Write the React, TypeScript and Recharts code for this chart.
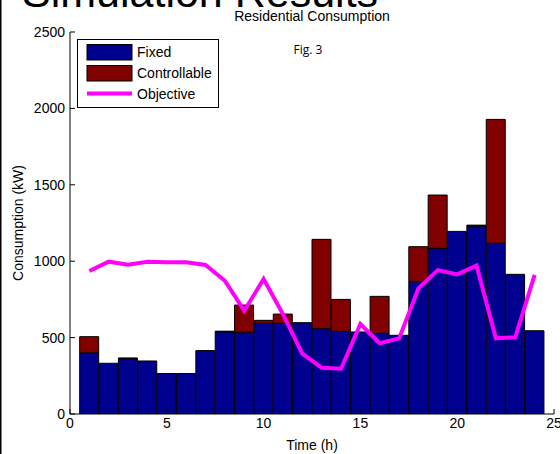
import React from 'react';
import { ComposedChart, Bar, Line, XAxis, YAxis } from 'recharts';

const hours = [1, 2, 3, 4, 5, 6, 7, 8, 9, 10, 11, 12, 13, 14, 15, 16, 17, 18, 19, 20, 21, 22, 23, 24];
const fixed = [400, 332, 362, 347, 265, 265, 415, 538, 535, 593, 593, 598, 558, 541, 537, 528, 515, 866, 1084, 1195, 1230, 1117, 914, 545];
const controllable = [106, 0, 5, 0, 0, 0, 0, 4, 178, 20, 61, 0, 585, 209, 0, 242, 0, 229, 349, 0, 6, 811, 0, 0];
const objective = [936, 997, 977, 997, 993, 993, 975, 872, 676, 883, 654, 395, 303, 296, 589, 463, 495, 822, 942, 914, 971, 495, 502, 910];

const xTicks = [0, 5, 10, 15, 20, 25];
const yTicks = [0, 500, 1000, 1500, 2000, 2500];

const seriesNames = ['Fixed', 'Controllable', 'Objective'];
const FIXED_COLOR = '#00008F';
const CTRL_COLOR = '#800000';
const OBJ_COLOR = '#FF00FF';

const data = hours.map((h, i) => ({
  h,
  fixed: fixed[i],
  controllable: controllable[i],
  objective: objective[i],
}));

const FONT = '"Liberation Sans", Arial, Helvetica, sans-serif';
const tickStyle = { fontSize: 14, fill: '#000', fontFamily: FONT };

export default function App() {
  return (
    <div style={{ position: 'absolute', left: 0, top: 0, width: 560, height: 454, background: '#fff', overflow: 'hidden', fontFamily: FONT }}>
      <div style={{ position: 'absolute', left: 0, top: 0 }}>
        <ComposedChart
          width={560}
          height={454}
          data={data}
          margin={{ top: 32, right: 6, bottom: 0, left: 10 }}
          barCategoryGap={0}
          barGap={0}
        >
          <XAxis
            dataKey="h"
            type="number"
            domain={[0, 25]}
            ticks={xTicks}
            interval={0}
            allowDataOverflow
            height={40}
            tickSize={-5}
            tickMargin={9}
            tick={tickStyle}
            axisLine={{ stroke: '#000' }}
            tickLine={{ stroke: '#000' }}
          />
          <XAxis
            xAxisId="top"
            orientation="top"
            type="number"
            domain={[0, 25]}
            ticks={xTicks}
            interval={0}
            height={0}
            tickSize={-5}
            tickFormatter={() => ''}
            axisLine={{ stroke: '#000' }}
            tickLine={{ stroke: '#000' }}
          />
          <YAxis
            type="number"
            domain={[0, 2500]}
            ticks={yTicks}
            interval={0}
            allowDataOverflow
            width={60}
            tickSize={-5}
            tickMargin={10}
            tick={tickStyle}
            axisLine={{ stroke: '#000' }}
            tickLine={{ stroke: '#000' }}
          />
          <YAxis
            yAxisId="r"
            orientation="right"
            type="number"
            domain={[0, 2500]}
            ticks={yTicks}
            interval={0}
            width={0}
            tickSize={-5}
            tickFormatter={() => ''}
            axisLine={{ stroke: '#000' }}
            tickLine={{ stroke: '#000' }}
          />
          <Bar dataKey="fixed" name={seriesNames[0]} stackId="s" fill={FIXED_COLOR} stroke="#000" strokeWidth={1} isAnimationActive={false} />
          <Bar dataKey="controllable" name={seriesNames[1]} stackId="s" fill={CTRL_COLOR} stroke="#000" strokeWidth={1} isAnimationActive={false} />
          <Line dataKey="objective" name={seriesNames[2]} type="linear" stroke={OBJ_COLOR} strokeWidth={4} dot={false} activeDot={false} isAnimationActive={false} />
        </ComposedChart>
      </div>
      <svg width={560} height={454} style={{ position: 'absolute', left: 0, top: 0, pointerEvents: 'none' }} fontFamily={FONT}>
        <text x={22} y={7} fontSize={43} fill="#000">Simulation Results</text>
        <rect x={0} y={0} width={1.5} height={454} fill="#000" />
        <text x={312} y={21} fontSize={14} textAnchor="middle" fill="#000">Residential Consumption</text>
        <text x={308} y={54} fontSize={12} textAnchor="middle" fill="#000" fontFamily='"Open Sans", "Noto Sans", sans-serif'>Fig. 3</text>
        <text x={23} y={223} fontSize={14} textAnchor="middle" fill="#000" transform="rotate(-90 23 223)">Consumption (kW)</text>
        <text x={312} y={450} fontSize={14} textAnchor="middle" fill="#000">Time (h)</text>
        <g>
          <rect x={77.5} y={39.5} width={141} height={68} fill="#fff" stroke="#000" strokeWidth={1} />
          <rect x={87} y={44.5} width={45} height={15.5} fill={FIXED_COLOR} stroke="#000" strokeWidth={1} />
          <rect x={87} y={65.5} width={45} height={15.5} fill={CTRL_COLOR} stroke="#000" strokeWidth={1} />
          <line x1={87} x2={132} y1={93.5} y2={93.5} stroke={OBJ_COLOR} strokeWidth={4} />
          <text x={137} y={57} fontSize={14} fill="#000">{seriesNames[0]}</text>
          <text x={137} y={78} fontSize={14} fill="#000">{seriesNames[1]}</text>
          <text x={137} y={99} fontSize={14} fill="#000">{seriesNames[2]}</text>
        </g>
      </svg>
    </div>
  );
}
